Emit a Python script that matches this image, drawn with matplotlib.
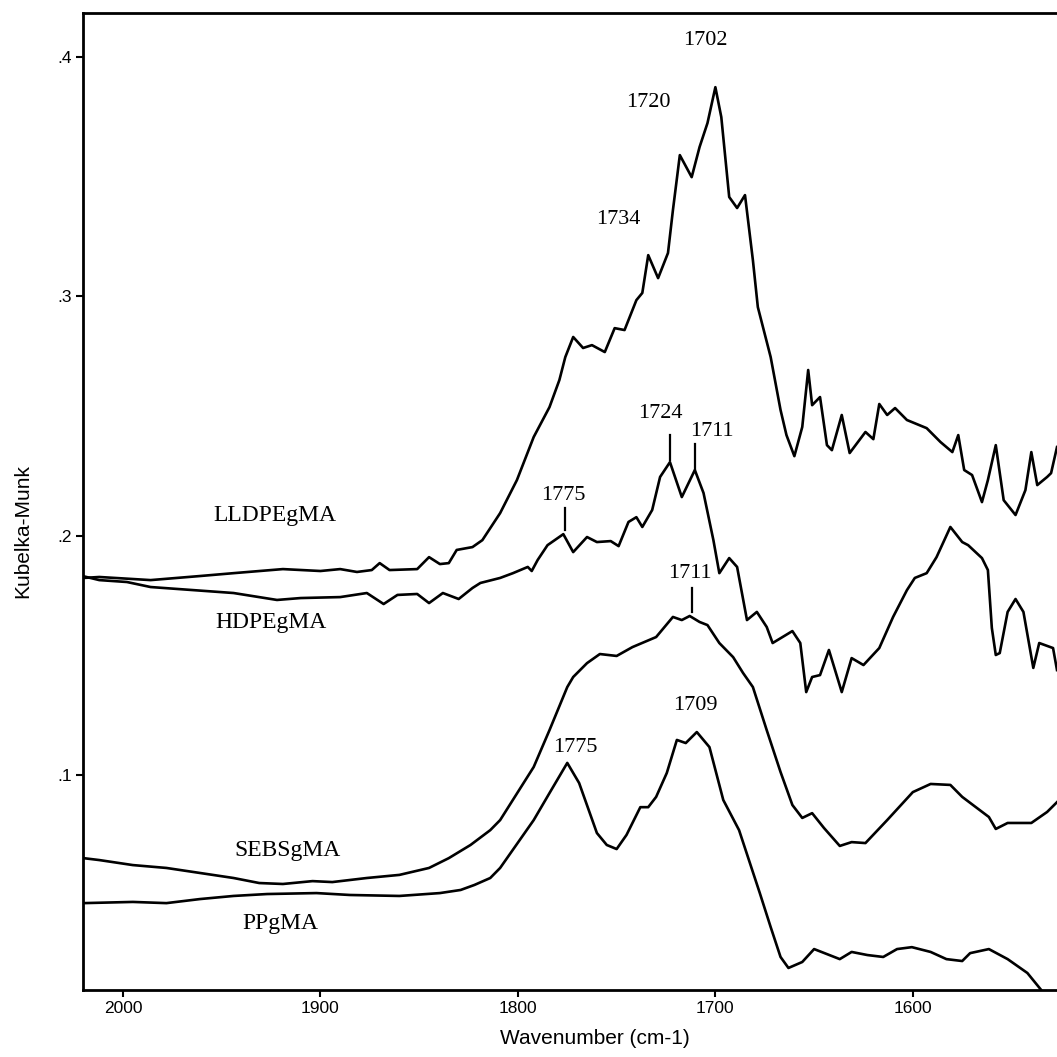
import matplotlib
matplotlib.use("Agg")
import matplotlib.pyplot as plt
from matplotlib.ticker import FuncFormatter

# spectra (wavenumber cm-1, Kubelka-Munk)
lldpe_wn = [2020, 2012, 1986, 1961, 1944, 1919, 1900, 1890, 1881.5, 1874, 1870, 1865, 1851,
            1845, 1839.5, 1835, 1831, 1823, 1818, 1809, 1800.5, 1792, 1784, 1779, 1776, 1772,
            1767, 1762.5, 1756, 1751, 1746, 1740, 1737, 1734, 1729, 1724, 1721.5, 1718, 1712,
            1708, 1704, 1700, 1697, 1693, 1689, 1685, 1681, 1678.5, 1672, 1667, 1664, 1660,
            1656, 1653, 1651, 1647, 1643.5, 1641, 1636, 1632, 1624, 1620, 1617, 1613, 1609,
            1603, 1593, 1586, 1580, 1577, 1574, 1570, 1565, 1562, 1558, 1554, 1548, 1543,
            1540, 1537, 1532, 1530, 1527]
lldpe_km = [.1823, .1827, .1814, .1831, .1843, .1860, .1852, .1860, .1848, .1856, .1885, .1856, .1860,
            .1910, .1881, .1885, .1940, .1952, .1981, .2094, .2232, .2412, .2537, .2650, .2746, .2830,
            .2784, .2796, .2767, .2867, .2859, .2984, .3014, .3172, .3076, .3181, .3360, .3590, .3498,
            .3624, .3724, .3874, .3749, .3415, .3369, .3423, .3151, .2955, .2746, .2525, .2420, .2332,
            .2454, .2692, .2545, .2579, .2378, .2357, .2504, .2345, .2433, .2403, .2550, .2504, .2533,
            .2483, .2449, .2391, .2349, .2420, .2274, .2253, .2140, .2232, .2378, .2148, .2086, .2190,
            .2349, .2211, .2245, .2261, .2370]

hdpe_wn = [2020, 2012, 1998, 1986, 1944, 1922, 1910, 1890, 1876.5, 1868, 1861, 1851, 1845, 1838,
           1830, 1823, 1819, 1809, 1802.5, 1795, 1793, 1790, 1785, 1777, 1772, 1765, 1760, 1753,
           1749, 1744, 1740, 1737, 1732, 1728, 1723, 1717, 1710.4, 1706, 1701, 1698, 1693, 1689,
           1684, 1679, 1674, 1671, 1666, 1661, 1657, 1654, 1651, 1647, 1642.5, 1636, 1631, 1625,
           1617, 1610, 1603, 1599, 1593, 1588, 1581, 1575, 1572, 1565, 1562, 1560, 1558, 1556,
           1552, 1548, 1544, 1539, 1536, 1529, 1527]
hdpe_km = [.1830, .1814, .1806, .1785, .1760, .1731, .1739, .1743, .1760, .1714, .1752, .1756, .1718, .1760,
           .1735, .1781, .1802, .1823, .1843, .1869, .1852, .1898, .1960, .2006, .1931, .1994, .1973, .1977,
           .1956, .2057, .2077, .2036, .2107, .2245, .2307, .2161, .2274, .2178, .1981, .1843, .1906, .1869,
           .1647, .1681, .1618, .1551, .1576, .1601, .1551, .1346, .1409, .1417, .1522, .1346, .1488, .1459,
           .1530, .1660, .1772, .1823, .1843, .1910, .2036, .1973, .1960, .1906, .1856, .1614, .1501, .1509,
           .1681, .1735, .1681, .1447, .1551, .1530, .1438]

sebs_wn = [2020, 2012, 1995, 1978, 1961, 1944, 1931, 1919, 1904, 1894, 1876.5, 1860, 1845, 1835,
           1824, 1814, 1809, 1792, 1784, 1775, 1772, 1765, 1758.5, 1750, 1742, 1730, 1721.5, 1717,
           1713, 1708, 1704, 1698, 1691, 1686, 1681, 1674, 1667, 1661, 1656, 1651, 1645, 1637,
           1631, 1624, 1613, 1600, 1591, 1581, 1575, 1561.5, 1558, 1552, 1540, 1532, 1527]
sebs_km = [.0652, .0644, .0623, .0611, .0590, .0569, .0548, .0544, .0556, .0552, .0569, .0582, .0611, .0652,
           .0707, .0769, .0811, .1033, .1187, .1367, .1409, .1467, .1505, .1497, .1534, .1576, .1660, .1647,
           .1664, .1639, .1626, .1551, .1492, .1426, .1367, .1187, .1012, .0874, .0820, .0840, .0778, .0703,
           .0719, .0715, .0811, .0928, .0962, .0958, .0908, .0824, .0774, .0799, .0799, .0845, .0886]

pp_wn = [2020, 1995, 1978, 1961, 1944, 1927, 1902, 1885, 1860, 1839.5, 1829, 1822, 1814, 1809,
         1792, 1784, 1775, 1769, 1760, 1755, 1750, 1745, 1738, 1734, 1730, 1724.6, 1719.5, 1715,
         1709.4, 1703, 1696, 1688, 1677.5, 1672, 1667, 1663, 1656, 1650, 1637, 1631, 1623, 1615,
         1608, 1600.5, 1591, 1583, 1575, 1571, 1561.5, 1552, 1542, 1535, 1532]
pp_km = [.0464, .0469, .0464, .0481, .0494, .0502, .0506, .0498, .0494, .0506, .0519, .0540, .0569, .0611,
         .0811, .0924, .1050, .0966, .0757, .0707, .0690, .0749, .0865, .0865, .0908, .1008, .1146, .1133,
         .1179, .1116, .0895, .0769, .0506, .0364, .0239, .0193, .0218, .0272, .0230, .0260, .0247, .0239,
         .0272, .0280, .0260, .0230, .0222, .0255, .0272, .0230, .0172, .0101, .0040]

# curve names and where they sit
names = ["LLDPEgMA", "HDPEgMA", "SEBSgMA", "PPgMA"]
name_x = [1923, 1925, 1916.5, 1920.5]
name_y = [0.2086, 0.1635, 0.0686, 0.0377]

# peak numbers
peak_text = ["1702", "1720", "1734", "1724", "1711", "1775", "1711", "1775", "1709"]
peak_x = [1705, 1734, 1749, 1728, 1702, 1777, 1713, 1771, 1710]
peak_y = [0.407, 0.3808, 0.3319, 0.2512, 0.2433, 0.2169, 0.1843, 0.1116, 0.1292]

# little vertical marker lines above some peaks
mark_x = [1776, 1723, 1710.4, 1712]
mark_lo = [0.2022, 0.2316, 0.2278, 0.1681]
mark_hi = [0.2115, 0.2420, 0.2382, 0.1781]

serif = "Liberation Serif"
sans = "Liberation Sans"

fig = plt.figure(figsize=(10.57, 10.57), dpi=100)
ax = fig.add_axes([0.0785, 0.0634, 0.9215, 0.9243])

for wn, km in [(lldpe_wn, lldpe_km), (hdpe_wn, hdpe_km), (sebs_wn, sebs_km), (pp_wn, pp_km)]:
    ax.plot(wn, km, color="black", lw=1.9, solid_joinstyle="round")

for xx, lo, hi in zip(mark_x, mark_lo, mark_hi):
    ax.plot([xx, xx], [lo, hi], color="black", lw=1.6)

for t, xx, yy in zip(names, name_x, name_y):
    ax.text(xx, yy, t, ha="center", va="center", fontsize=17, family=serif)

for t, xx, yy in zip(peak_text, peak_x, peak_y):
    ax.text(xx, yy, t, ha="center", va="center", fontsize=16, family=serif)

ax.set_xlim(2020.25, 1527)
ax.set_ylim(0.0101, 0.4184)
ax.set_xticks([2000, 1900, 1800, 1700, 1600])
ax.set_yticks([0.1, 0.2, 0.3, 0.4])
ax.yaxis.set_major_formatter(FuncFormatter(lambda v, p: ("%.1f" % v).lstrip("0")))
ax.tick_params(direction="out", length=5, width=1.5, labelsize=12.5, pad=3)
for lab in ax.get_xticklabels() + ax.get_yticklabels():
    lab.set_family(sans)

ax.spines["right"].set_visible(False)
for s in ["left", "top", "bottom"]:
    ax.spines[s].set_linewidth(2)

ax.set_xlabel("Wavenumber (cm-1)", fontsize=15, family=sans)
ax.set_ylabel("Kubelka-Munk", fontsize=15, family=sans)
ax.xaxis.set_label_coords(0.526, -0.040)
ax.yaxis.set_label_coords(-0.052, 0.47)

fig.savefig("out.png", dpi=100)
